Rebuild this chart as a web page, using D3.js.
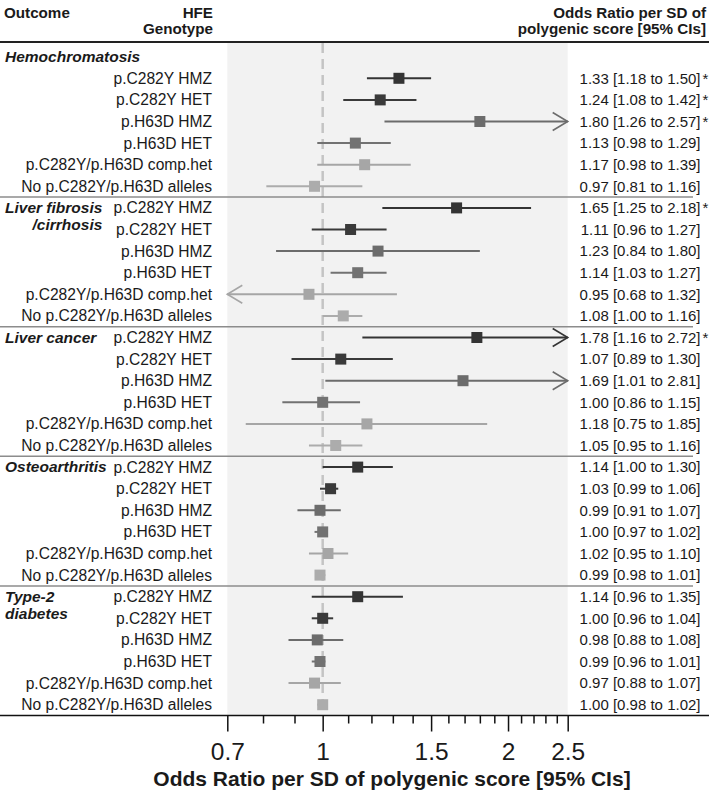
<!DOCTYPE html>
<html lang="en">
<head>
<meta charset="UTF-8">
<title>HFE genotype forest plot</title>
<script src="https://d3js.org/d3.v7.min.js"></script>
<style>
    body { margin: 0; background: #fff; }
    svg text { font-family: "Liberation Sans", Arial, sans-serif; fill: #1a1a1a; }
    .hdr { font-size: 15.2px; font-weight: bold; }
    .outcome { font-size: 15.5px; font-weight: bold; font-style: italic; }
    .geno { font-size: 15.6px; }
    .val { font-size: 15px; }
</style>
</head>
<body>
<div id="chart"></div>
<script>
// outcome names (one entry per printed line)
const outcomes = [["Hemochromatosis"], ["Liver fibrosis", "/cirrhosis"], ["Liver cancer"], ["Osteoarthritis"], ["Type-2", "diabetes"]];
// first group title sits on a row of its own
const titleRows = [1, 0, 0, 0, 0];
const genotypes = ["p.C282Y HMZ", "p.C282Y HET", "p.H63D HMZ", "p.H63D HET", "p.C282Y/p.H63D comp.het", "No p.C282Y/p.H63D alleles"];
const genoColors = ["#343434", "#3a3a3a", "#6c6c6c", "#727272", "#a6a6a6", "#acacac"];

const oddsRatio = [
    [1.33, 1.24, 1.80, 1.13, 1.17, 0.97],
    [1.65, 1.11, 1.23, 1.14, 0.95, 1.08],
    [1.78, 1.07, 1.69, 1.00, 1.18, 1.05],
    [1.14, 1.03, 0.99, 1.00, 1.02, 0.99],
    [1.14, 1.00, 0.98, 0.99, 0.97, 1.00]
];
const lowerCI = [
    [1.18, 1.08, 1.26, 0.98, 0.98, 0.81],
    [1.25, 0.96, 0.84, 1.03, 0.68, 1.00],
    [1.16, 0.89, 1.01, 0.86, 0.75, 0.95],
    [1.00, 0.99, 0.91, 0.97, 0.95, 0.98],
    [0.96, 0.96, 0.88, 0.96, 0.88, 0.98]
];
const upperCI = [
    [1.50, 1.42, 2.57, 1.29, 1.39, 1.16],
    [2.18, 1.27, 1.80, 1.27, 1.32, 1.16],
    [2.72, 1.30, 2.81, 1.15, 1.85, 1.16],
    [1.30, 1.06, 1.07, 1.02, 1.10, 1.01],
    [1.35, 1.04, 1.08, 1.01, 1.07, 1.02]
];
const significant = [
    [1, 1, 1, 0, 0, 0],
    [1, 0, 0, 0, 0, 0],
    [1, 0, 0, 0, 0, 0],
    [0, 0, 0, 0, 0, 0],
    [0, 0, 0, 0, 0, 0]
];
const majorTicks = [0.7, 1, 1.5, 2, 2.5];
const minorTicks = [0.8, 0.9, 1.1, 1.2, 1.3, 1.4, 1.6, 1.7, 1.8, 1.9, 2.1, 2.2, 2.3, 2.4];
const axisTitle = "Odds Ratio per SD of polygenic score [95% CIs]";

const width = 709, height = 792;

// flatten into rows
const rows = [];
const groupStart = [];
let r = 0;
outcomes.forEach((o, g) => {
    groupStart.push(r);
    r += titleRows[g];
    genotypes.forEach((geno, k) => {
        rows.push({
            group: g, k: k, row: r, geno: geno,
            or: oddsRatio[g][k], lo: lowerCI[g][k], hi: upperCI[g][k], sig: significant[g][k]
        });
        r++;
    });
});
const nRows = r;

const x = d3.scaleLog().domain([0.7, 2.5]).range([227.3, 567.7]);
const y = d3.scaleLinear().domain([0, nRows - 1]).range([56.7, 704.7]);

const svg = d3.select("#chart").append("svg")
    .attr("width", width).attr("height", height);

const axisY = y(nRows - 0.5);
const topY = y(-0.68);

// shaded plotting panel
svg.append("rect")
    .attr("x", x(0.7)).attr("y", topY + 1)
    .attr("width", x(2.5) - x(0.7)).attr("height", axisY - topY - 1)
    .attr("fill", "#f2f2f2");

// reference line at OR = 1
svg.append("line")
    .attr("x1", x(1)).attr("x2", x(1))
    .attr("y1", topY + 1).attr("y2", axisY)
    .attr("stroke", "#c4c4c4").attr("stroke-width", 2.5)
    .attr("stroke-dasharray", "10,6");

// header
svg.append("text").attr("class", "hdr").attr("x", 4).attr("y", 18).text("Outcome");
svg.append("text").attr("class", "hdr").attr("x", 213).attr("y", 18).attr("text-anchor", "end").text("HFE");
svg.append("text").attr("class", "hdr").attr("x", 213).attr("y", 34).attr("text-anchor", "end").text("Genotype");
svg.append("text").attr("class", "hdr").attr("x", 706).attr("y", 18).attr("text-anchor", "end").text("Odds Ratio per SD of");
svg.append("text").attr("class", "hdr").attr("x", 706).attr("y", 34).attr("text-anchor", "end").text("polygenic score [95% CIs]");

svg.append("line")
    .attr("x1", 0).attr("x2", width).attr("y1", topY).attr("y2", topY)
    .attr("stroke", "#222").attr("stroke-width", 2);

// group separators
groupStart.slice(1).forEach(s => {
    svg.append("line")
        .attr("x1", 0).attr("x2", 693)
        .attr("y1", y(s - 0.5)).attr("y2", y(s - 0.5))
        .attr("stroke", "#8c8c8c").attr("stroke-width", 1.5);
});

// group titles
outcomes.forEach((lines, g) => {
    const t = svg.append("text").attr("class", "outcome");
    const first = t.append("tspan").attr("x", 5).attr("y", y(groupStart[g]) + 5).text(lines[0]);
    if (lines.length > 1) {
        const w = first.node().getComputedTextLength();
        // second line
        const second = t.append("tspan").attr("y", y(groupStart[g]) + 22).text(lines[1]);
        if (g === 1) second.attr("x", 5 + w).attr("text-anchor", "end");
        else second.attr("x", 5);
    }
});

// genotype labels
svg.selectAll(".geno").data(rows).join("text")
    .attr("class", "geno")
    .attr("x", 212).attr("y", d => y(d.row) + 5.4)
    .attr("text-anchor", "end")
    .text(d => d.geno);

// values column
const f2 = d3.format(".2f");
svg.selectAll(".val").data(rows).join("text")
    .attr("class", "val")
    .attr("x", 700.5).attr("y", d => y(d.row) + 5.3)
    .attr("text-anchor", "end")
    .text(d => `${f2(d.or)} [${f2(d.lo)} to ${f2(d.hi)}]`);

svg.selectAll(".star").data(rows.filter(d => d.sig)).join("text")
    .attr("class", "val star")
    .attr("x", 702.5).attr("y", d => y(d.row) + 5.3)
    .text("*");

// confidence intervals
const [dMin, dMax] = x.domain();
const ci = svg.append("g");
rows.forEach(d => {
    const c = genoColors[d.k];
    const yy = y(d.row);
    const x1 = x(Math.max(d.lo, dMin)), x2 = x(Math.min(d.hi, dMax));
    ci.append("line")
        .attr("x1", x1).attr("x2", x2).attr("y1", yy).attr("y2", yy)
        .attr("stroke", c).attr("stroke-width", 2);
    if (d.hi > dMax) {
        ci.append("path")
            .attr("d", `M${x2 - 15},${yy - 9}L${x2},${yy}L${x2 - 15},${yy + 9}`)
            .attr("fill", "none").attr("stroke", c).attr("stroke-width", 1.6);
    }
    if (d.lo < dMin) {
        ci.append("path")
            .attr("d", `M${x1 + 15},${yy - 9}L${x1},${yy}L${x1 + 15},${yy + 9}`)
            .attr("fill", "none").attr("stroke", c).attr("stroke-width", 1.6);
    }
});

// point estimates
const sq = 11;
svg.selectAll(".pt").data(rows).join("rect")
    .attr("class", "pt")
    .attr("x", d => x(d.or) - sq / 2).attr("y", d => y(d.row) - sq / 2)
    .attr("width", sq).attr("height", sq)
    .attr("fill", d => genoColors[d.k]);

// x axis
svg.append("line")
    .attr("x1", 0).attr("x2", width).attr("y1", axisY).attr("y2", axisY)
    .attr("stroke", "#111").attr("stroke-width", 1.5);

const gMinor = svg.append("g").attr("transform", `translate(0,${axisY})`)
    .call(d3.axisBottom(x).tickValues(minorTicks).tickSize(8).tickFormat(""));
const gMajor = svg.append("g").attr("transform", `translate(0,${axisY})`)
    .call(d3.axisBottom(x).tickValues(majorTicks).tickSize(16).tickFormat(d3.format("~g")));
[gMinor, gMajor].forEach(g => {
    g.select(".domain").remove();
    g.selectAll(".tick line").attr("stroke", "#111").attr("stroke-width", 1.5);
});
gMajor.selectAll(".tick text")
    .attr("y", 44).attr("dy", 0)
    .style("font-size", "24.5px")
    .style("font-family", "'Liberation Sans', Arial, sans-serif")
    .attr("fill", "#1a1a1a");

svg.append("text")
    .attr("x", 392).attr("y", 786)
    .attr("text-anchor", "middle")
    .style("font-size", "21px").style("font-weight", "bold")
    .text(axisTitle);
</script>
</body>
</html>
